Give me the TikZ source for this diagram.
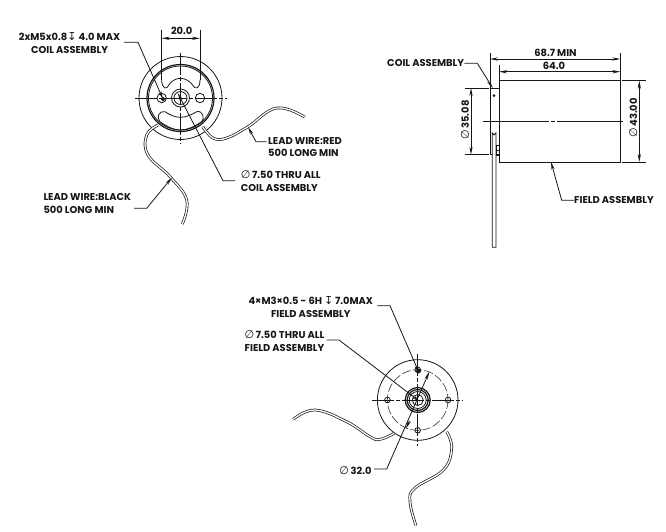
\documentclass[tikz,border=0pt]{standalone}
\usepackage{fontspec}
\setmainfont{Poppins}
\usepackage{tikz}
\usetikzlibrary{arrows.meta}
\newfontfamily\symfont{DejaVu Sans}
\definecolor{inkgrey}{RGB}{22, 22, 22}
\newcommand{\diam}{{\symfont\mdseries\fontsize{11}{11}\selectfont ∅}}
\newcommand{\depth}{{\symfont\mdseries\fontsize{11}{11}\selectfont ↧}}

\begin{document}
\begin{tikzpicture}[x=1pt, y=-1pt,
            label/.style = {
                text=inkgrey,
                font=\bfseries\fontsize{9.9}{12.8}\selectfont,
                inner sep=0pt,
                },
            outline/.style = {draw=inkgrey, line width=0.8pt},
            heavy/.style = {draw=inkgrey, line width=1.2pt},
            thin/.style = {draw=inkgrey, line width=0.6pt},
            centre/.style = {draw=inkgrey, line width=0.5pt, dash pattern=on 22pt off 2pt on 4pt off 2pt},
            dashcircle/.style = {draw=inkgrey, line width=0.5pt, dash pattern=on 9pt off 2.5pt},
            leader/.style = {draw=inkgrey, line width=0.8pt, -{Stealth[length=8pt,width=3.2pt]}},
            dim/.style = {draw=inkgrey, line width=0.8pt, {Stealth[length=8pt,width=3.2pt]}-{Stealth[length=8pt,width=3.2pt]}},
            wire/.style = {draw=inkgrey, line width=0.7pt, double=white, double distance=1.3pt},
            ]
            \useasboundingbox (0,0) rectangle (666,531);

            % coil end view
            \coordinate (cv) at (180.5,98);
            \draw[outline] (cv) circle (41.5);
            \draw[heavy] (cv) circle (33.5);
            \draw[outline] (cv) circle (32);
            \draw[outline] (cv) circle (9);
            \draw[outline] (cv) circle (6.5);
            \draw[outline] (161.7,98) circle (4.7);
            \draw[outline] (200,98) circle (4.7);
            \fill[inkgrey] (163,99) circle (2);
            \draw[centre] (135,98) -- (226.7,98);
            \draw[centre] (180.5,52.7) -- (180.5,143);
            % slots
            \draw[outline] (161.7,80) .. controls (161.7,89) and (167,90) .. (168.5,85.5)
                .. controls (171,81) and (176,78.3) .. (180.5,78.3)
                .. controls (185,78.3) and (190,81) .. (193,85.5)
                .. controls (195,90) and (200,89) .. (200,80);
            \draw[outline] (165,111.7) .. controls (170,115) and (175,117.3) .. (180.5,117.3)
                .. controls (186,117.3) and (191,115) .. (196.7,111.7)
                .. controls (203,110) and (205,119) .. (201.7,121.7)
                .. controls (195,126) and (188,130) .. (180.5,130)
                .. controls (173,130) and (166,126) .. (160,121.7)
                .. controls (156,118) and (159,110) .. (165,111.7);
            % wires
            \draw[wire] plot[smooth, tension=0.7] coordinates {(202.7,126.7) (213,138) (226.7,138) (248,126.7) (276.7,108) (305,117.3)};
            \draw[wire] plot[smooth, tension=0.7] coordinates {(158,125) (146.7,135) (148,155) (170,176.7) (186.7,200) (182.3,224)};

            % dimensions of coil end view
            \coordinate (ca) at (161.7,30);
            \coordinate (cb) at (200,30);
            \coordinate (cc) at (161.7,38.3);
            \coordinate (cd) at (200,38.3);
            \draw[thin] (ca) -- (161.7,80);
            \draw[thin] (cb) -- (200,80);
            \draw[dim] (cc) -- (cd);
            \node[label] (dimtwenty) at (181.7,31) {20.0};

            \node[label, align=center] (threadcoil) at (69.5,43.3) {2xM5x0.8\depth\ 4.0 MAX\\COIL ASSEMBLY};
            \coordinate (threadtip) at (163,99);
            \draw[leader] (124,42.3) -- (138,42.3) -- (threadtip);

            \node[label, align=left, anchor=west] (borecoil) at (240.7,181.3) {\diam\,7.50 THRU ALL\\COIL ASSEMBLY};
            \coordinate (boretip) at (177.7,93);
            \draw[leader] (235,180.7) -- (223,180.7) -- (boretip);

            \node[label, align=left, anchor=west] (wirered) at (268,147) {LEAD WIRE:RED\\500 LONG MIN};
            \coordinate (redtip) at (248,127);
            \draw[leader] (266.7,141.7) -- (256,141.7) -- (redtip);

            \node[label, align=left, anchor=west] (wireblack) at (43.3,203.7) {LEAD WIRE:BLACK\\500 LONG MIN};
            \coordinate (blacktip) at (172,177.5);
            \draw[leader] (134,208.3) -- (146.7,208.3) -- (blacktip);

            % side view
            \node[draw=inkgrey, line width=0.9pt, inner sep=0pt, minimum width=121.3pt, minimum height=81.3pt] (field) at (559.65,121.35) {};
            \node[draw=inkgrey, line width=0.7pt, inner sep=0pt, minimum width=9pt, minimum height=66.7pt] (coil) at (494.5,121.35) {};
            \draw[centre, dash pattern=on 66pt off 2pt on 4pt off 2pt] (483.3,121.3) -- (625,121.3);
            \fill[inkgrey] (494,95.7) circle (1.5);
            \draw[outline, fill=white] (492.3,247.3) -- (492.3,133) arc[start angle=180, end angle=0, radius=1.85] -- (496,247.3) -- cycle;
            \draw[outline] (496,145) rectangle (499,155);
            \draw[outline] (496,150) -- (499,150);

            \node[label] (dimminlen) at (555.5,53) {68.7 MIN};
            \node[label] (dimlen) at (554,65.5) {64.0};
            \draw[thin] (490,53) -- (490,88);
            \draw[thin] (499,65) -- (499,80);
            \draw[thin] (620.3,53) -- (620.3,80);
            \draw[dim] (490,59) -- (620.3,59);
            \draw[dim] (499,71.7) -- (620.3,71.7);

            \draw[thin] (622.3,80.7) -- (646,80.7);
            \draw[thin] (622.3,162) -- (646,162);
            \draw[dim] (639.3,80.7) -- (639.3,162);
            \node[label, rotate=90] (dimouter) at (633.3,118) {\diam\,43.00};
            \draw[thin] (465,88) -- (489.3,88);
            \draw[thin] (465,154.7) -- (489.3,154.7);
            \draw[dim] (471,88) -- (471,154.7);
            \node[label, rotate=90] (dimcoil) at (465,120) {\diam\,35.08};

            \node[label, anchor=east] (coilside) at (464.3,63.3) {COIL ASSEMBLY};
            \draw[leader] (coilside.east) -- (477.3,63.3) -- (492.7,88);
            \node[label, anchor=west] (fieldside) at (574,200.3) {FIELD ASSEMBLY};
            \draw[leader] (fieldside.west) -- (561.7,200.3) -- (551,162);

            % field end view
            \coordinate (fv) at (417.7,400);
            \draw[outline] (fv) circle (40.3);
            \draw[dashcircle] (fv) circle (30.3);
            \draw[heavy] (fv) circle (12.5);
            \draw[heavy] (fv) circle (10.5);
            \draw[outline] (fv) circle (8.5);
            \draw[outline] (fv) circle (5.5);
            \foreach \hx/\hy in {387.4/400, 448/400, 417.7/430.3, 417.7/369.7}
                \draw[outline] (\hx,\hy) circle (2.8);
            \draw[centre] (372.3,400) -- (463.3,400);
            \draw[centre] (417.7,354.3) -- (417.7,446);
            \fill[inkgrey] (418.5,371) circle (2.4);
            \draw[wire] plot[smooth, tension=0.7] coordinates {(394.3,433.3) (380,439.3) (370,436.7) (346.7,421.7) (315,410) (293.3,419.3)};
            \draw[wire] plot[smooth, tension=0.7] coordinates {(446.7,431.7) (451.7,448.3) (443.3,470) (415,488) (410,501.7) (416,525.7)};

            \node[label, align=center] (threadfield) at (310.8,307) {4×M3×0.5 - 6H \depth\,7.0MAX\\FIELD ASSEMBLY};
            \coordinate (threadtipb) at (419.3,373.3);
            \draw[leader] (377.3,305.7) -- (390,305.7) -- (threadtipb);

            \node[label, align=center] (borefield) at (284.5,340.8) {\diam\,7.50 THRU ALL\\FIELD ASSEMBLY};
            \coordinate (boretipb) at (420,401.7);
            \draw[leader] (326.7,340) -- (339,340) -- (boretipb);

            \node[label, anchor=east] (dimbolt) at (371.7,470.3) {\diam\,32.0};
            \coordinate (bolttip) at (429.3,371.7);
            \coordinate (bolttipb) at (406,428.3);
            \coordinate (boltmid) at (409.5,421);
            \draw[leader] (374,469) -- (386.7,469) -- (bolttip);
            \draw[leader] (boltmid) -- (bolttipb);
        \end{tikzpicture}
\end{document}
